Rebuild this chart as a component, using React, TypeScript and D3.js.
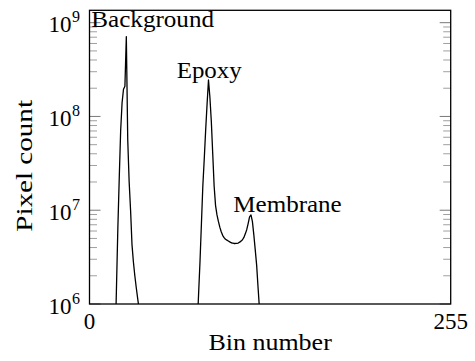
import React from 'react';
import * as d3 from 'd3';

// Histogram of pixel intensities (log-scale counts)
const backgroundStartBin = 17;
const backgroundCounts = [
  1.0e5, 3.2e5, 1.4e6, 6.3e6, 2.2e7, 7.1e7, 1.4e8, 1.95e8, 2.1e8, 7.1e8,
  5.6e7, 2.0e7, 1.0e7, 4.3e6, 2.8e6, 2.0e6, 1.5e6, 1.15e6, 8.9e5, 5.0e5,
];
const tissueStartBin = 74;
const tissueCounts = [
  1e5, 2.5e5, 5.6e5, 1.26e6, 2.8e6, 7.1e6, 1.8e7, 3.5e7, 7.1e7, 1.35e8,
  2.45e8, 1.6e8, 8.9e7, 4.0e7, 1.8e7, 1.12e7, 8.9e6, 7.6e6, 6.6e6, 5.9e6,
  5.4e6, 5.1e6, 4.9e6, 4.8e6, 4.7e6, 4.6e6, 4.5e6, 4.47e6, 4.42e6, 4.42e6,
  4.43e6, 4.47e6, 4.57e6, 4.68e6, 4.84e6, 5.13e6, 5.6e6, 6.2e6, 7.2e6, 8.5e6,
  8.9e6, 7.6e6, 5.5e6, 3.8e6, 2.6e6, 1.5e6, 8.9e5, 4.0e5,
];

const xTicks = [0, 255];
const xDomain = [0, 255];
const yDomain = [1e6, Math.pow(10, 9.132)];

const annotationTexts = ['Background', 'Epoxy', 'Membrane'];
const annotationBins = [44.6, 84.5, 139.8];
const annotationCounts = [8.9e8, 2.57e8, 9.66e6];
const annotationWidths = [122.7, 65, 108.4];

const xLabel = 'Bin number';
const yLabel = 'Pixel count';

const W = 475;
const H = 361;
const plot = { left: 89.5, right: 450.7, top: 10.3, bottom: 304 };
const FONT = 'Liberation Serif, Times New Roman, serif';

export default function App() {
  const x = d3.scaleLinear().domain(xDomain).range([plot.left, plot.right]);
  const y = d3.scaleLog().domain(yDomain).range([plot.bottom, plot.top]);

  const line = d3
    .line<[number, number]>()
    .x((d) => x(d[0]))
    .y((d) => y(d[1]));

  const bgData: [number, number][] = backgroundCounts.map((c, i) => [backgroundStartBin + i, c]);
  const tissueData: [number, number][] = tissueCounts.map((c, i) => [tissueStartBin + i, c]);

  const allTicks = y.ticks();
  const isMajor = (v: number) => Math.abs(Math.log10(v) - Math.round(Math.log10(v))) < 1e-9;
  const majors = allTicks.filter(isMajor);
  const minors = allTicks.filter((v) => !isMajor(v));

  const majorLen = 11;
  const minorLen = 7.5;

  return (
    <svg
      width={W}
      height={H}
      style={{ position: 'fixed', left: 0, top: 0, background: '#fff', fontFamily: FONT }}
    >
      <defs>
        <clipPath id="plotClip">
          <rect x={plot.left} y={plot.top} width={plot.right - plot.left} height={plot.bottom - plot.top} />
        </clipPath>
      </defs>

      {/* minor ticks */}
      {minors.map((v, i) => (
        <g key={'mn' + i} stroke="#777" strokeWidth={0.7}>
          <line x1={plot.left} x2={plot.left + minorLen} y1={y(v)} y2={y(v)} />
          <line x1={plot.right} x2={plot.right - minorLen} y1={y(v)} y2={y(v)} />
        </g>
      ))}
      {majors.map((v, i) => (
        <g key={'mj' + i} stroke="#555" strokeWidth={0.8}>
          <line x1={plot.left} x2={plot.left + majorLen} y1={y(v)} y2={y(v)} />
          <line x1={plot.right} x2={plot.right - majorLen} y1={y(v)} y2={y(v)} />
        </g>
      ))}

      {/* curves */}
      <g clipPath="url(#plotClip)" fill="none" stroke="#000" strokeWidth={1.3} strokeLinejoin="round">
        <path d={line(bgData) || ''} />
        <path d={line(tissueData) || ''} />
      </g>

      {/* frame */}
      <rect
        x={plot.left}
        y={plot.top}
        width={plot.right - plot.left}
        height={plot.bottom - plot.top}
        fill="none"
        stroke="#000"
        strokeWidth={1.3}
      />

      {/* y tick labels */}
      {majors.map((v, i) => (
        <text key={'yl' + i} x={80} y={y(v) + 9.8} textAnchor="end" fontSize={23} fill="#000">
          10
          <tspan fontSize={16} dy={-10} dx={0.5}>
            {String(Math.round(Math.log10(v)))}
          </tspan>
        </text>
      ))}

      {/* x tick labels */}
      {xTicks.map((v, i) => (
        <text key={'xl' + i} x={x(v)} y={328.5} textAnchor="middle" fontSize={23} fill="#000">
          {String(v)}
        </text>
      ))}

      {/* annotations */}
      {annotationTexts.map((t, i) => (
        <text
          key={'an' + i}
          x={x(annotationBins[i])}
          y={y(annotationCounts[i])}
          textAnchor="middle"
          fontSize={24}
          textLength={annotationWidths[i]}
          lengthAdjust="spacingAndGlyphs"
          fill="#000"
        >
          {t}
        </text>
      ))}

      {/* axis labels */}
      <text
        x={(plot.left + plot.right) / 2}
        y={350}
        textAnchor="middle"
        fontSize={24}
        textLength={123.4}
        lengthAdjust="spacingAndGlyphs"
        fill="#000"
      >
        {xLabel}
      </text>
      <text
        transform={`translate(31.7, 165.9) rotate(-90)`}
        textAnchor="middle"
        fontSize={24}
        textLength={131.7}
        lengthAdjust="spacingAndGlyphs"
        fill="#000"
      >
        {yLabel}
      </text>
    </svg>
  );
}
